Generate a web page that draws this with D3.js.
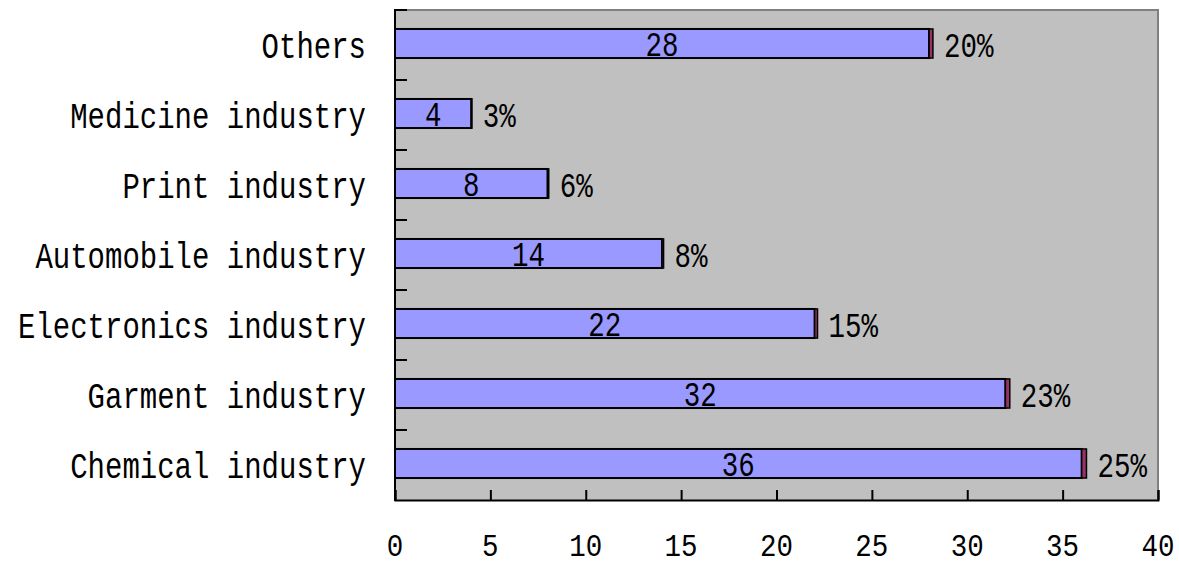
<!DOCTYPE html>
<html>
<head>
<meta charset="utf-8">
<script src="https://cdnjs.cloudflare.com/ajax/libs/d3/7.8.5/d3.min.js"></script>
<style>
  body { margin: 0; background: #fff; }
  text { font-family: "Liberation Mono", "DejaVu Sans Mono", monospace; fill: #000; }
</style>
</head>
<body>
<script>
(function() {

//chart data, listed top to bottom
var categories = ['Others', 'Medicine industry', 'Print industry', 'Automobile industry',
                  'Electronics industry', 'Garment industry', 'Chemical industry'];
var counts = [28, 4, 8, 14, 22, 32, 36];
var percents = [20, 3, 6, 8, 15, 23, 25];
var xTicks = [0, 5, 10, 15, 20, 25, 30, 35, 40];

//frame dimensions
var width = 1179,
    height = 566,
    left = 395,
    right = 1158,
    top = 10,
    bottom = 500,
    stretch = 1.3;   //glyphs drawn a bit taller, like the original font

var svg = d3.select('body')
    .append('svg')
    .attr('width', width)
    .attr('height', height);

var x = d3.scaleLinear()
    .domain([0, 40])
    .range([left, right]);

//band step is 70px, bar takes ~29px of it
var y = d3.scaleBand()
    .domain(categories)
    .range([top, bottom])
    .paddingInner(0.585)
    .paddingOuter(0.2925);

//plot background
svg.append('rect')
    .attr('x', left)
    .attr('y', top)
    .attr('width', right - left)
    .attr('height', bottom - top)
    .attr('fill', '#c0c0c0');

//gray frame on top and right
svg.append('path')
    .attr('d', 'M' + left + ',' + top + 'H' + right + 'V' + bottom)
    .attr('fill', 'none')
    .attr('stroke', '#808080')
    .attr('stroke-width', 2);

//helper: stretched text anchored at baseline
function addText(g, tx, ty, str, size, anchor, sy) {
    g.append('text')
        .attr('transform', 'translate(' + tx + ',' + ty + ') scale(1,' + (sy || stretch) + ')')
        .attr('text-anchor', anchor)
        .style('font-size', size + 'px')
        .text(str);
}

var rows = categories.map(function(c, i) {
    return { name: c, count: counts[i], pct: percents[i] };
});

//blue count bars
svg.selectAll('.bar')
    .data(rows)
    .enter()
    .append('rect')
    .attr('class', 'bar')
    .attr('x', x(0))
    .attr('y', function(d) { return y(d.name) - 1.5; })
    .attr('width', function(d) { return x(d.count) - x(0); })
    .attr('height', y.bandwidth())
    .attr('fill', '#9999ff')
    .attr('stroke', '#000')
    .attr('stroke-width', 2);

//maroon percent segments stacked on the end
svg.selectAll('.seg')
    .data(rows)
    .enter()
    .append('rect')
    .attr('class', 'seg')
    .attr('x', function(d) { return x(d.count); })
    .attr('y', function(d) { return y(d.name) - 1.5; })
    .attr('width', function(d) { return x(d.count + d.pct / 100) - x(d.count); })
    .attr('height', y.bandwidth())
    .attr('fill', '#993366')
    .attr('stroke', '#000')
    .attr('stroke-width', 1.5);

var labels = svg.append('g');
rows.forEach(function(d) {
    var cy = y(d.name) + y.bandwidth() / 2;
    //count inside bar
    addText(labels, (x(0) + x(d.count)) / 2, cy + 10.5, d.count, 27.5, 'middle');
    //percent after bar
    addText(labels, x(d.count + d.pct / 100) + 11, cy + 11.5, d.pct + '%', 27.5, 'start');
    //category name
    addText(labels, 366, cy + 12.5, d.name, 29, 'end');
});

//left axis line with inward ticks at band borders
svg.append('line')
    .attr('x1', left).attr('x2', left)
    .attr('y1', top - 1).attr('y2', bottom + 1)
    .attr('stroke', '#000')
    .attr('stroke-width', 2);

d3.range(categories.length).forEach(function(i) {
    var ty = top + i * y.step();
    svg.append('line')
        .attr('x1', left).attr('x2', left + 12)
        .attr('y1', ty).attr('y2', ty)
        .attr('stroke', '#000')
        .attr('stroke-width', 2);
});

//bottom axis, ticks pointing inward
var xAxis = d3.axisBottom(x)
    .tickValues(xTicks)
    .tickSize(-10)
    .tickFormat('');

var axis = svg.append('g')
    .attr('transform', 'translate(0,' + bottom + ')')
    .call(xAxis);

axis.select('.domain')
    .attr('stroke', '#000')
    .attr('stroke-width', 2);
axis.selectAll('.tick line')
    .attr('stroke', '#000')
    .attr('stroke-width', 2);

//tick labels sit near the bottom edge, so keep their descent inside
var tickLabels = svg.append('g');
xTicks.forEach(function(t) {
    addText(tickLabels, x(t), 556, t, 27.5, 'middle', 1.15);
});

})();
</script>
</body>
</html>
